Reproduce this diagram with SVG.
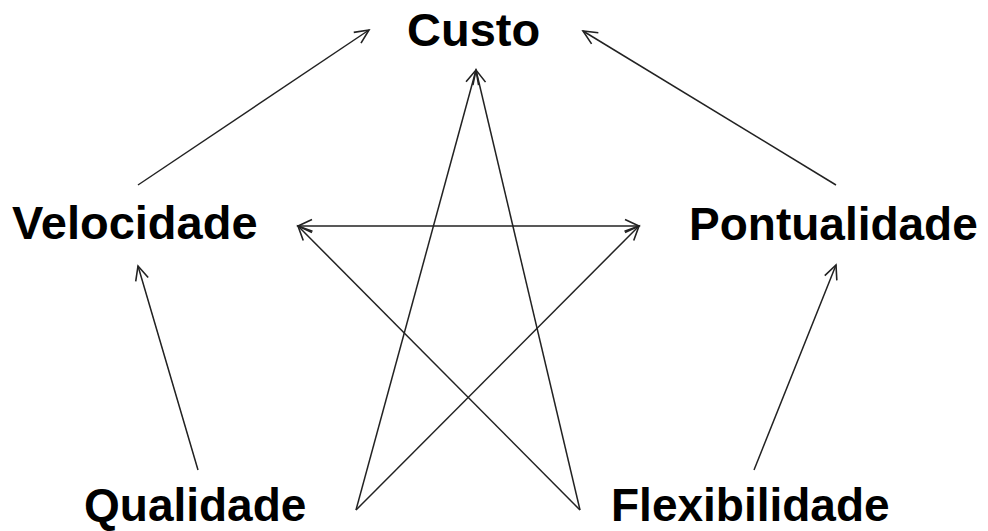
<svg xmlns="http://www.w3.org/2000/svg" width="988" height="531" viewBox="0 0 988 531">
<defs>
<marker id="arr" markerUnits="userSpaceOnUse" markerWidth="30" markerHeight="30" viewBox="-20 -15 30 30" refX="0" refY="0" orient="auto-start-reverse">
<path d="M-14,-6.5 L0,0 L-14,6.5" fill="none" stroke="#222" stroke-width="1.6"/>
</marker>
<style>
.lbl{font-family:"Liberation Sans",Arial,sans-serif;font-weight:bold;font-size:46px;fill:#000}
.big{font-size:47px}
.c{fill:none;stroke:#222;stroke-width:1.5;marker-end:url(#arr)}
</style>
</defs>
<rect width="988" height="531" fill="#fff"/>
<g id="connectors">
<line class="c" x1="138" y1="185" x2="369" y2="30"/>
<line class="c" x1="836" y1="185" x2="583" y2="31"/>
<line class="c" x1="198" y1="470" x2="138" y2="266"/>
<line class="c" x1="754" y1="470" x2="836" y2="265"/>
<line class="c" x1="298" y1="226" x2="639" y2="226" style="marker-start:url(#arr)"/>
<line class="c" x1="356" y1="510" x2="476" y2="70"/>
<line class="c" x1="356" y1="510" x2="639" y2="226"/>
<line class="c" x1="580" y1="510" x2="476" y2="70"/>
<line class="c" x1="580" y1="510" x2="298" y2="226"/>
</g>
<g id="custo"><text class="lbl big" x="407" y="46">Custo</text></g>
<g id="velocidade"><text class="lbl big" x="12" y="239">Velocidade</text></g>
<g id="pontualidade"><text class="lbl" x="689" y="240">Pontualidade</text></g>
<g id="qualidade"><text class="lbl" x="84" y="521">Qualidade</text></g>
<g id="flexibilidade"><text class="lbl" x="611" y="521">Flexibilidade</text></g>
</svg>
